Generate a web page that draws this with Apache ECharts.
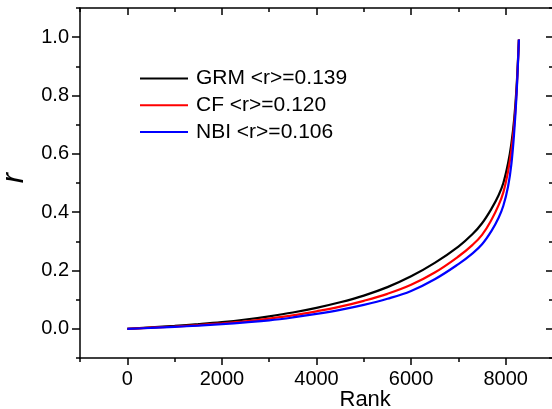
<!DOCTYPE html>
<html>
<head>
<meta charset="utf-8">
<script src="https://cdn.jsdelivr.net/npm/echarts@6/dist/echarts.min.js"></script>
<style>
html,body{margin:0;padding:0;background:#fff;}
#chart{width:552px;height:409px;}
</style>
</head>
<body>
<div id="chart"></div>
<script>
const ranks = [0, 500, 1000, 1500, 2000, 2500, 3000, 3500, 4000, 4500, 5000, 5500, 6000, 6500, 7000, 7300, 7500, 7700, 7850, 7950, 8050, 8120, 8180, 8230, 8279];
const grmR = [0, 0.005, 0.010, 0.016, 0.023, 0.032, 0.043, 0.056, 0.072, 0.091, 0.114, 0.143, 0.180, 0.226, 0.282, 0.325, 0.362, 0.412, 0.458, 0.500, 0.568, 0.635, 0.720, 0.830, 0.992];
const cfR  = [0, 0.004, 0.008, 0.013, 0.019, 0.026, 0.035, 0.046, 0.060, 0.076, 0.096, 0.120, 0.151, 0.193, 0.248, 0.288, 0.322, 0.374, 0.424, 0.468, 0.540, 0.612, 0.700, 0.815, 0.992];
const nbiR = [0, 0.003, 0.007, 0.011, 0.016, 0.022, 0.029, 0.039, 0.051, 0.065, 0.082, 0.103, 0.130, 0.170, 0.222, 0.259, 0.290, 0.336, 0.381, 0.422, 0.488, 0.565, 0.675, 0.805, 0.992];
const seriesNames = ['GRM <r>=0.139', 'CF <r>=0.120', 'NBI <r>=0.106'];
const seriesColors = ['#000000', '#ff0000', '#0000ff'];
const xMajorTicks = [0, 2000, 4000, 6000, 8000];
const xMinorTicks = [-1000, 1000, 3000, 5000, 7000, 9000];
const yMajorTicks = [0, 0.2, 0.4, 0.6, 0.8, 1.0];
const yMinorTicks = [-0.1, 0.1, 0.3, 0.5, 0.7, 0.9, 1.1];

const FONT = 'Liberation Sans, Arial, sans-serif';
const AX = {color: '#000', width: 1.5};

function pairs(ys) { return ranks.map((x, i) => [x, ys[i]]); }

function xAx(pos, ticks, len, inside, showLine, showLabels, extra) {
  return Object.assign({
    type: 'value', position: pos, min: -1000, max: 9000, gridIndex: 0,
    axisLine: {show: showLine, onZero: false, lineStyle: AX},
    axisTick: {show: true, customValues: ticks, length: len, inside: inside, lineStyle: AX},
    axisLabel: showLabels ? {show: true, customValues: ticks, fontSize: 20, color: '#000', fontFamily: FONT, margin: 11, formatter: v => String(Math.round(v))} : {show: false},
    splitLine: {show: false}
  }, extra || {});
}
function yAx(pos, ticks, len, inside, showLine, showLabels, extra) {
  return Object.assign({
    type: 'value', position: pos, min: -0.1, max: 1.1, gridIndex: 0,
    axisLine: {show: showLine, onZero: false, lineStyle: AX},
    axisTick: {show: true, customValues: ticks, length: len, inside: inside, lineStyle: AX},
    axisLabel: showLabels ? {show: true, customValues: ticks, fontSize: 20, color: '#000', fontFamily: FONT, margin: 11, formatter: v => Number(v).toFixed(1)} : {show: false},
    splitLine: {show: false}
  }, extra || {});
}

const chart = echarts.init(document.getElementById('chart'), null, {renderer: 'canvas'});
chart.setOption({
  animation: false,
  backgroundColor: '#fff',
  grid: {left: 80, top: 8, width: 473, height: 350, containLabel: false, outerBoundsMode: 'none'},
  legend: {
    orient: 'vertical', left: 140, top: 68, padding: 0,
    icon: 'rect', itemWidth: 48, itemHeight: 2, itemGap: 5.8,
    textStyle: {fontSize: 21, color: '#000', fontFamily: FONT, lineHeight: 20, padding: [0, 0, 0, 3]},
    data: seriesNames
  },
  xAxis: [
    xAx('bottom', xMajorTicks, 7, false, true, true, {
      name: 'Rank', nameLocation: 'middle', nameGap: 31, nameMoveOverlap: false,
      nameTextStyle: {fontSize: 22, color: '#000', fontFamily: FONT, align: 'left', verticalAlign: 'top', padding: [0, 0, 0, 23]}
    }),
    xAx('bottom', xMinorTicks, 4, false, false, false),
    xAx('top', xMajorTicks, 7, true, true, false),
    xAx('top', xMinorTicks, 4, true, false, false)
  ],
  yAxis: [
    yAx('left', yMajorTicks, 8, false, true, true, {
      name: 'r', nameLocation: 'middle', nameGap: 50, nameRotate: 90, nameMoveOverlap: false,
      nameTextStyle: {fontSize: 31, fontStyle: 'italic', color: '#000', fontFamily: FONT, padding: [0, 0, 0, 10]}
    }),
    yAx('left', yMinorTicks, 4, false, false, false),
    yAx('right', yMajorTicks, 7, true, true, false),
    yAx('right', yMinorTicks, 4, true, false, false)
  ],
  series: [grmR, cfR, nbiR].map((ys, i) => ({
    name: seriesNames[i], type: 'line', xAxisIndex: 0, yAxisIndex: 0,
    data: pairs(ys), symbol: 'none', smooth: 0.4,
    lineStyle: {color: seriesColors[i], width: 2.2},
    itemStyle: {color: seriesColors[i]}
  }))
});
</script>
</body>
</html>
